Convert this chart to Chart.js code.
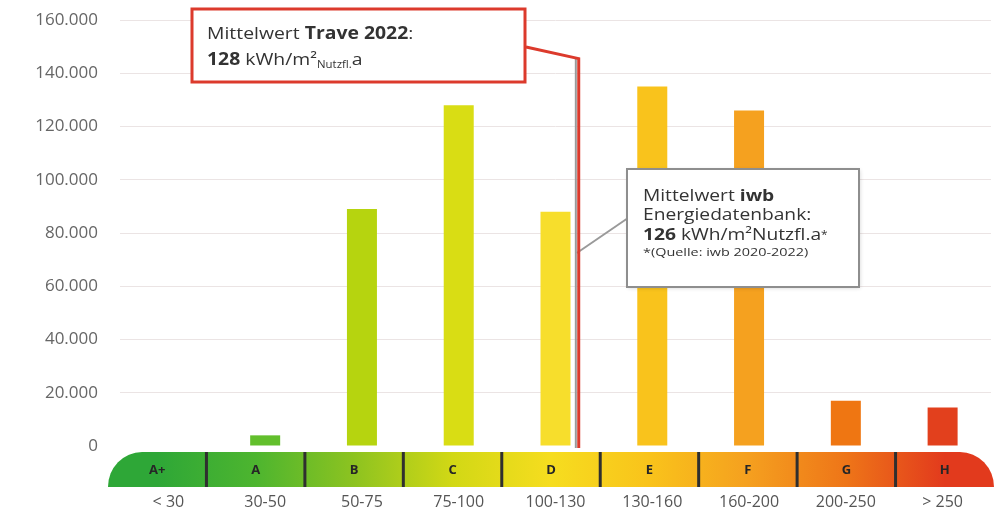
<!DOCTYPE html>
<html>
<head>
<meta charset="utf-8">
<script src="https://cdn.jsdelivr.net/npm/chart.js@4/dist/chart.umd.min.js"></script>
<style>
    html, body { margin: 0; padding: 0; background: #fff; }
    #wrap { width: 1002px; height: 520px; position: relative; }
</style>
</head>
<body>
<div id="wrap"><canvas id="energyChart"></canvas></div>
<script>
// values
const classRanges = ["< 30", "30-50", "50-75", "75-100", "100-130", "130-160", "160-200", "200-250", "> 250"];
const classLetters = ["A+", "A", "B", "C", "D", "E", "F", "G", "H"];
const areaValues = [0, 4000, 89000, 128000, 88000, 135000, 126000, 17000, 14500];
const barColors = ["#3aae35", "#62bf2c", "#b6d40f", "#d9dd14", "#f7de2c", "#f9c31c", "#f5a11f", "#ef7612", "#e2401d"];
const yTicks = [0, 20000, 40000, 60000, 80000, 100000, 120000, 140000, 160000];
const bandColors = ["#2ea737", "#4db52f", "#8dc320", "#d2d815", "#f6dd1f", "#f9c31b", "#f5a01f", "#ee7518", "#e23a1d"];

// mean lines, as positions on the category axis and top value on y
const traveLinePos = 4.24;
const iwbLinePos = 4.21;
const meanLineTop = 145500;

function formatDe(v) {
    return String(v).replace(/\B(?=(\d{3})+(?!\d))/g, ".");
}

// draws a line of mixed text runs, stretched a bit like the original
function drawRuns(ctx, x, y, runs, stretch) {
    ctx.save();
    ctx.translate(x, y);
    ctx.scale(stretch, 1);
    let cx = 0;
    runs.forEach(r => {
        ctx.font = (r.bold ? "bold " : "") + r.size + "px 'Open Sans'";
        ctx.fillStyle = r.color || "#333";
        ctx.textBaseline = "alphabetic";
        ctx.fillText(r.t, cx, r.dy || 0);
        cx += ctx.measureText(r.t).width;
    });
    ctx.restore();
}

const bandPlugin = {
    id: "bandPlugin",
    afterDatasetsDraw(chart) {
        const ctx = chart.ctx;
        const area = chart.chartArea;
        const xs = chart.scales.x;
        const ys = chart.scales.y;

        // energy class band under the axis
        const x0 = area.left - 12;
        const x1 = area.right + 3;
        const top = area.bottom + 6;
        const bottom = area.bottom + 41;
        const rx = 34;
        const seg = (x1 - x0) / classLetters.length;

        ctx.save();
        const grad = ctx.createLinearGradient(x0, 0, x1, 0);
        bandColors.forEach((c, i) => {
            grad.addColorStop((i + 0.5) / bandColors.length, c);
        });
        grad.addColorStop(0, bandColors[0]);
        grad.addColorStop(1, bandColors[bandColors.length - 1]);

        ctx.beginPath();
        ctx.moveTo(x0, bottom);
        ctx.ellipse(x0 + rx, bottom, rx, bottom - top, 0, Math.PI, Math.PI * 1.5);
        ctx.lineTo(x1 - rx, top);
        ctx.ellipse(x1 - rx, bottom, rx, bottom - top, 0, Math.PI * 1.5, Math.PI * 2);
        ctx.closePath();
        ctx.fillStyle = grad;
        ctx.fill();

        ctx.strokeStyle = "#2f2f2f";
        ctx.lineWidth = 3;
        for (let i = 1; i < classLetters.length; i++) {
            const sx = x0 + seg * i;
            ctx.beginPath();
            ctx.moveTo(sx, top);
            ctx.lineTo(sx, bottom);
            ctx.stroke();
        }

        ctx.fillStyle = "#262626";
        ctx.font = "bold 13px 'Open Sans'";
        ctx.textAlign = "center";
        ctx.textBaseline = "middle";
        classLetters.forEach((l, i) => {
            ctx.fillText(l, x0 + seg * (i + 0.5), (top + bottom) / 2 + 1);
        });
        ctx.restore();

        // mean lines
        const lineTopY = ys.getPixelForValue(meanLineTop);
        const iwbX = xs.getPixelForValue(iwbLinePos);
        const traveX = xs.getPixelForValue(traveLinePos);

        ctx.save();
        ctx.strokeStyle = "#9a9a9a";
        ctx.lineWidth = 2;
        ctx.beginPath();
        ctx.moveTo(iwbX, lineTopY);
        ctx.lineTo(iwbX, area.bottom + 2);
        ctx.stroke();

        // connector to grey box
        ctx.beginPath();
        ctx.moveTo(iwbX + 1, 253);
        ctx.lineTo(628, 218);
        ctx.stroke();

        ctx.strokeStyle = "#dc3a2c";
        ctx.lineWidth = 3;
        ctx.beginPath();
        ctx.moveTo(526, 47);
        ctx.lineTo(traveX, lineTopY);
        ctx.lineTo(traveX, area.bottom + 2);
        ctx.stroke();

        // red callout
        ctx.fillStyle = "#fff";
        ctx.fillRect(192, 9, 333, 73);
        ctx.strokeStyle = "#dc3a2c";
        ctx.lineWidth = 3;
        ctx.strokeRect(192, 9, 333, 73);
        drawRuns(ctx, 207, 39, [
            { t: "Mittelwert ", size: 17 },
            { t: "Trave 2022", size: 17, bold: true },
            { t: ":", size: 17 }
        ], 1.14);
        drawRuns(ctx, 207, 65, [
            { t: "128", size: 17, bold: true },
            { t: " kWh/m²", size: 17 },
            { t: "Nutzfl.", size: 10, dy: 3 },
            { t: "a", size: 17 }
        ], 1.14);

        // grey callout
        ctx.shadowColor = "rgba(0,0,0,0.18)";
        ctx.shadowBlur = 4;
        ctx.shadowOffsetX = 1;
        ctx.shadowOffsetY = 1;
        ctx.fillStyle = "#fff";
        ctx.fillRect(627, 169, 232, 118);
        ctx.shadowColor = "transparent";
        ctx.strokeStyle = "#8e8e8e";
        ctx.lineWidth = 2;
        ctx.strokeRect(627, 169, 232, 118);
        drawRuns(ctx, 643, 201, [
            { t: "Mittelwert ", size: 16 },
            { t: "iwb", size: 16, bold: true }
        ], 1.2);
        drawRuns(ctx, 643, 220, [
            { t: "Energiedatenbank:", size: 16 }
        ], 1.2);
        drawRuns(ctx, 643, 240, [
            { t: "126", size: 16, bold: true },
            { t: " kWh/m²Nutzfl.a", size: 16 },
            { t: "*", size: 10, dy: -2 }
        ], 1.2);
        drawRuns(ctx, 643, 256, [
            { t: "*(Quelle: iwb 2020-2022)", size: 10 }
        ], 1.44);
        ctx.restore();
    }
};

new Chart(document.getElementById("energyChart"), {
    type: "bar",
    data: {
        labels: classRanges,
        datasets: [{
            data: areaValues,
            backgroundColor: barColors,
            borderWidth: 0,
            barPercentage: 0.31,
            categoryPercentage: 1
        }]
    },
    options: {
        responsive: true,
        maintainAspectRatio: false,
        animation: false,
        layout: {
            padding: { left: 25, right: 11, top: 20, bottom: 0 }
        },
        plugins: {
            legend: { display: false },
            tooltip: { enabled: false }
        },
        scales: {
            x: {
                // invisible tick marks push the labels below the class band
                grid: { display: true, color: "rgba(0,0,0,0)", tickColor: "rgba(0,0,0,0)", drawTicks: true, tickLength: 45 },
                border: { display: false },
                ticks: {
                    color: "#555",
                    padding: 2,
                    font: { family: "Open Sans", size: 16 }
                },
                afterFit(axis) {
                    axis.height = 74;
                }
            },
            y: {
                min: 0,
                max: 160000,
                afterBuildTicks(axis) {
                    axis.ticks = yTicks.map(v => ({ value: v }));
                },
                grid: {
                    drawTicks: true,
                    tickLength: 20,
                    tickColor: "rgba(0,0,0,0)",
                    color: ctx => ctx.tick && ctx.tick.value === 0 ? "rgba(0,0,0,0)" : "#ebe4e4",
                    lineWidth: 1
                },
                border: { display: false },
                ticks: {
                    color: "#666",
                    padding: 2,
                    font: { family: "Open Sans", size: 17 },
                    callback: v => formatDe(v)
                },
                afterFit(axis) {
                    axis.width = 95;
                }
            }
        }
    },
    plugins: [bandPlugin]
});
</script>
</body>
</html>
